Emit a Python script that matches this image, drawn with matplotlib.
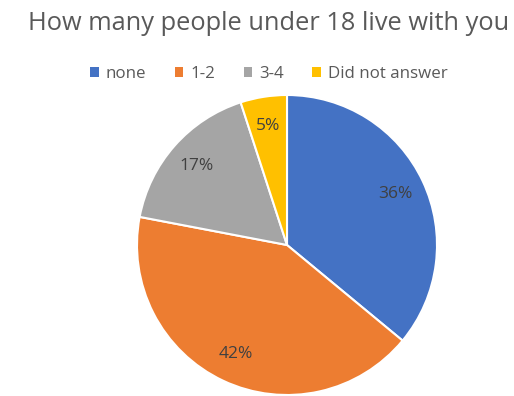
import matplotlib.pyplot as plt
from matplotlib.patches import Patch

# answers to the household question
categories = ['none', '1-2', '3-4', 'Did not answer']
shares = [36, 42, 17, 5]
colors = ['#4472C4', '#ED7D31', '#A5A5A5', '#FFC000']

plt.rcParams['font.family'] = ['Open Sans', 'DejaVu Sans']

fig = plt.figure(figsize=(5.14, 3.96), dpi=100)
fig.patch.set_facecolor('white')

ax = fig.add_axes([137 / 514, 1 / 396, 300 / 514, 300 / 396])
wedges, texts, autotexts = ax.pie(
    shares, colors=colors, startangle=90, counterclock=False,
    autopct='%d%%', pctdistance=0.8,
    wedgeprops=dict(edgecolor='white', linewidth=1.5),
    textprops=dict(fontsize=12.5, color='#404040'))
ax.set_xlim(-1, 1)
ax.set_ylim(-1, 1)
ax.set_aspect('equal')

fig.text(0.522, 0.94, 'How many people under 18 live with you',
         ha='center', va='center', fontsize=18.3, color='#595959')

handles = [Patch(facecolor=c, edgecolor='none') for c in colors]
fig.legend(handles, categories, loc='center', bbox_to_anchor=(0.523, 0.813),
           ncol=4, frameon=False, fontsize=12.2, labelcolor='#595959',
           handlelength=0.5, handleheight=0.5, handletextpad=0.4,
           columnspacing=1.7)

fig.savefig('out.png', dpi=100)
